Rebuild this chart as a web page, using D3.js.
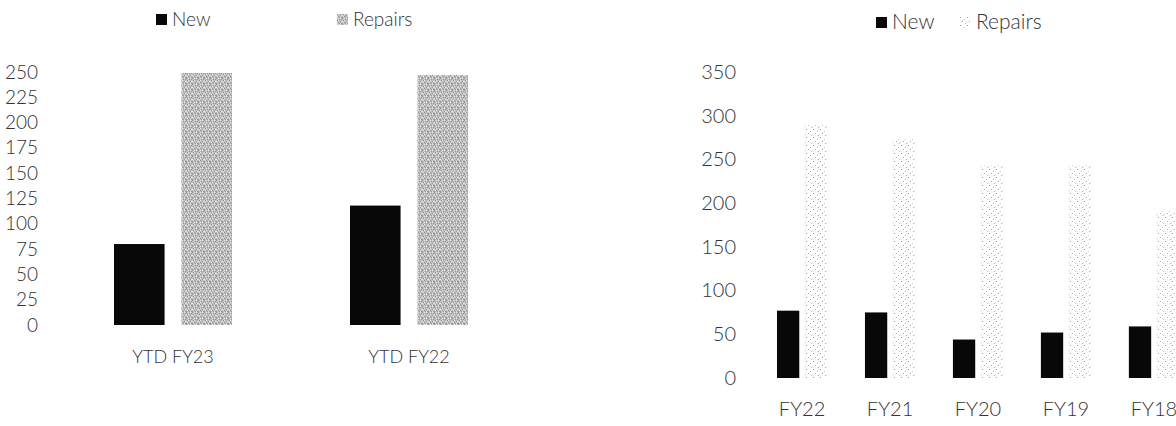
<!DOCTYPE html>
<html>
<head>
<meta charset="utf-8">
<script src="https://cdn.jsdelivr.net/npm/d3@7"></script>
<style>
  body { margin: 0; background: #fff; }
  text { font-family: Lato, "Open Sans", sans-serif; font-weight: 300; fill: #333; }
</style>
</head>
<body>
<svg width="1176" height="426"></svg>
<script>
var series = ["New", "Repairs"];

// left chart: year to date
var ytdCats = ["YTD FY23", "YTD FY22"];
var ytdNew = [80, 118];
var ytdRepairs = [249, 247];
var ytdTicks = [0, 25, 50, 75, 100, 125, 150, 175, 200, 225, 250];

// right chart: full years
var fyCats = ["FY22", "FY21", "FY20", "FY19", "FY18"];
var fyNew = [77, 75, 44, 52, 59];
var fyRepairs = [289, 274, 243, 243, 192];
var fyTicks = [0, 50, 100, 150, 200, 250, 300, 350];

var svg = d3.select("svg");
var defs = svg.append("defs");
var fontStack = "Lato, 'Open Sans', sans-serif";

// grainy grey for the left repairs bars
var p1 = defs.append("pattern").attr("id", "grain").attr("patternUnits", "userSpaceOnUse")
    .attr("width", 6).attr("height", 6);
p1.append("rect").attr("width", 6).attr("height", 6).attr("fill", "#c0c0c0");
[[0,0],[3,1],[5,1],[1,2],[4,3],[2,4],[0,5],[5,5],[3,5]].forEach(function(d) {
    p1.append("rect").attr("x", d[0]).attr("y", d[1]).attr("width", 1).attr("height", 1).attr("fill", "#969696");
});
[[2,0],[4,0],[0,3],[2,2],[5,3],[1,4],[4,5]].forEach(function(d) {
    p1.append("rect").attr("x", d[0]).attr("y", d[1]).attr("width", 1).attr("height", 1).attr("fill", "#e2e2e2");
});

// sparse dots for the right repairs bars
var p2 = defs.append("pattern").attr("id", "dots").attr("patternUnits", "userSpaceOnUse")
    .attr("width", 7).attr("height", 8);
p2.append("rect").attr("width", 7).attr("height", 8).attr("fill", "#fff");
[[1,1,"#9a9a9a"],[5,3,"#c8c8c8"],[3,5,"#a8a8a8"],[0,6,"#d0d0d0"],[6,7,"#b5b5b5"]].forEach(function(d) {
    p2.append("rect").attr("x", d[0]).attr("y", d[1]).attr("width", 1).attr("height", 1).attr("fill", d[2]);
});

function drawChart(opt) {
    var x0 = d3.scaleBand().domain(opt.cats).range(opt.xRange)
        .paddingInner(opt.padIn).paddingOuter(opt.padOut);
    var x1 = d3.scaleBand().domain(series).range([0, x0.bandwidth()]).paddingInner(opt.padSub);
    var y = d3.scaleLinear().domain([0, d3.max(opt.ticks)]).range(opt.yRange);

    var yAxis = svg.append("g")
        .attr("transform", "translate(" + opt.axisX + ",0)")
        .call(d3.axisLeft(y).tickValues(opt.ticks).tickSize(0).tickPadding(0));
    yAxis.select(".domain").remove();
    yAxis.selectAll("text").style("font-size", opt.fontSize + "px")
        .style("font-family", fontStack).style("font-weight", 300).attr("fill", "#333");

    var rows = opt.cats.map(function(c, i) {
        return { cat: c, vals: [opt.newVals[i], opt.repVals[i]] };
    });
    var groups = svg.selectAll(null).data(rows).enter().append("g")
        .attr("transform", function(d) { return "translate(" + x0(d.cat) + ",0)"; });
    groups.selectAll("rect").data(function(d) {
            return series.map(function(s, j) { return { s: s, v: d.vals[j] }; });
        })
        .enter().append("rect")
        .attr("x", function(d) { return x1(d.s); })
        .attr("width", x1.bandwidth())
        .attr("y", function(d) { return y(d.v); })
        .attr("height", function(d) { return y(0) - y(d.v); })
        .attr("fill", function(d) { return d.s == "New" ? "#080808" : opt.repFill; });

    var xAxis = svg.append("g")
        .attr("transform", "translate(0," + opt.catY + ")")
        .call(d3.axisBottom(x0).tickSize(0).tickPadding(0));
    xAxis.select(".domain").remove();
    xAxis.selectAll("text").style("font-size", opt.catSize + "px")
        .style("font-family", fontStack).style("font-weight", 300).attr("fill", "#333");

    // legend
    var lg = svg.append("g");
    opt.legend.forEach(function(l, i) {
        lg.append("rect").attr("x", l.x).attr("y", opt.legY - 5).attr("width", 11).attr("height", 11)
            .attr("fill", i == 0 ? "#080808" : opt.repFill);
        lg.append("text").attr("x", l.x + 16).attr("y", opt.legY + 7)
            .style("font-size", opt.legSize + "px").text(series[i]);
    });
}

drawChart({
    cats: ytdCats, newVals: ytdNew, repVals: ytdRepairs, ticks: ytdTicks,
    xRange: [55, 527], padIn: 0.5, padOut: 0.25, padSub: 0.25,
    yRange: [325, 72], axisX: 38, catY: 350, fontSize: 19, catSize: 18, legSize: 19,
    repFill: "url(#grain)", legY: 19, legend: [{ x: 156 }, { x: 337 }]
});

drawChart({
    cats: fyCats, newVals: fyNew, repVals: fyRepairs, ticks: fyTicks,
    xRange: [733, 1223], padIn: 0.43, padOut: 0.5, padSub: 0.2,
    yRange: [378, 72], axisX: 736, catY: 402, fontSize: 20, catSize: 20, legSize: 21,
    repFill: "url(#dots)", legY: 22, legend: [{ x: 876 }, { x: 960 }]
});
</script>
</body>
</html>
